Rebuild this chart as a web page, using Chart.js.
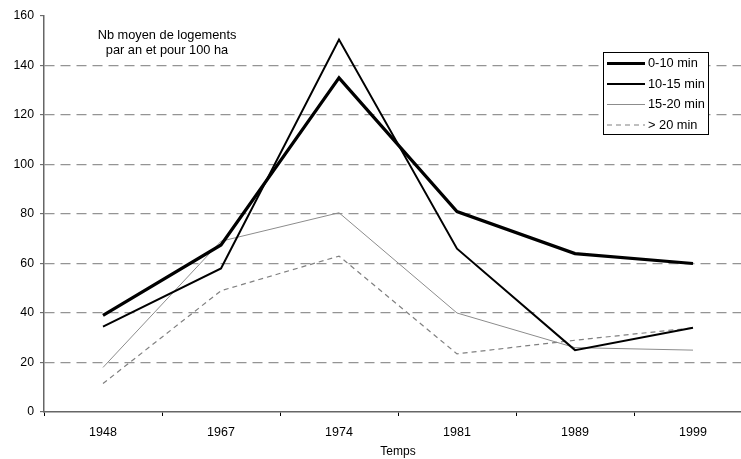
<!DOCTYPE html>
<html>
<head>
<meta charset="utf-8">
<script src="https://cdn.jsdelivr.net/npm/chart.js@4/dist/chart.umd.min.js"></script>
<style>
html,body{margin:0;padding:0;background:#fff;overflow:hidden;width:741px;height:459px;}
#wrap{position:absolute;left:0;top:0;width:760px;height:459px;}
</style>
</head>
<body>
<div id="wrap"><canvas id="c" width="760" height="459"></canvas></div>
<script>
const categories = ['1948', '1967', '1974', '1981', '1989', '1999'];
const seriesNames = ['0-10 min', '10-15 min', '15-20 min', '> 20 min'];
const s0_10 = [39, 67.5, 135, 81, 64, 60];
const s10_15 = [34.5, 58, 150.5, 66, 25, 34];
const s15_20 = [18, 69, 80.5, 40, 26, 25];
const s20plus = [11.5, 49, 63, 23.5, 29, 34];
const yTicks = [0, 20, 40, 60, 80, 100, 120, 140, 160];
const noteLines = ['Nb moyen de logements', 'par an et pour 100 ha'];
const xTitle = 'Temps';

const FONT = 'Liberation Sans, Arial, sans-serif';

const notePlugin = {
  id: 'note',
  afterDraw(chart) {
    const ctx = chart.ctx;
    ctx.save();
    ctx.font = '12.8px ' + FONT;
    ctx.fillStyle = '#000';
    ctx.textAlign = 'center';
    ctx.textBaseline = 'middle';
    noteLines.forEach((t, i) => ctx.fillText(t, 167, 35 + i * 15.5));
    ctx.restore();
  }
};

const legendPlugin = {
  id: 'boxLegend',
  afterDraw(chart) {
    const ctx = chart.ctx;
    const x0 = 603, y0 = 52, w = 105, h = 82;
    ctx.save();
    ctx.fillStyle = '#fff';
    ctx.fillRect(x0, y0, w, h);
    ctx.strokeStyle = '#000';
    ctx.lineWidth = 1;
    ctx.strokeRect(x0 + 0.5, y0 + 0.5, w, h);
    ctx.font = '12.8px ' + FONT;
    ctx.textBaseline = 'middle';
    ctx.textAlign = 'left';
    chart.data.datasets.forEach((ds, i) => {
      const y = y0 + 11.5 + i * 20.5;
      ctx.beginPath();
      ctx.strokeStyle = ds.borderColor;
      ctx.lineWidth = ds.borderWidth;
      ctx.setLineDash(ds.borderDash || []);
      ctx.moveTo(x0 + 4, y);
      ctx.lineTo(x0 + 42, y);
      ctx.stroke();
      ctx.setLineDash([]);
      ctx.fillStyle = '#000';
      ctx.fillText(ds.label, x0 + 45, y);
    });
    ctx.restore();
  }
};

new Chart(document.getElementById('c'), {
  type: 'line',
  data: {
    labels: categories,
    datasets: [
      { label: seriesNames[0], data: s0_10, borderColor: '#000', borderWidth: 3.2 },
      { label: seriesNames[1], data: s10_15, borderColor: '#000', borderWidth: 2 },
      { label: seriesNames[2], data: s15_20, borderColor: '#8c8c8c', borderWidth: 1 },
      { label: seriesNames[3], data: s20plus, borderColor: '#808080', borderWidth: 1.2, borderDash: [5, 4] }
    ]
  },
  options: {
    responsive: false,
    animation: false,
    devicePixelRatio: 1,
    layout: { padding: { left: 0, right: 8, top: 16, bottom: 0 } },
    elements: { point: { radius: 0 }, line: { tension: 0, fill: false } },
    plugins: { legend: { display: false }, tooltip: { enabled: false } },
    scales: {
      x: {
        offset: true,
        grid: { offset: true, drawOnChartArea: false, drawTicks: true, tickLength: 4, tickColor: '#000', tickWidth: 1 },
        border: { color: '#666', width: 1.5 },
        ticks: { color: '#000', font: { family: FONT, size: 12.5 }, padding: 9, maxRotation: 0 },
        title: { display: true, text: xTitle, color: '#000', font: { family: FONT, size: 12 }, padding: { top: 0, bottom: 0 } },
        afterFit(scale) { scale.height = 47; }
      },
      y: {
        min: 0, max: 160,
        afterBuildTicks(scale) { scale.ticks = yTicks.map(v => ({ value: v })); },
        grid: {
          color: ctx => (ctx.tick && (ctx.tick.value === 0 || ctx.tick.value === 160)) ? 'rgba(0,0,0,0)' : '#949494',
          lineWidth: 1.3,
          drawTicks: true, tickLength: 4, tickColor: '#555', tickWidth: 1
        },
        border: { color: '#666', width: 1.5, dash: [10, 6] },
        ticks: { color: '#000', font: { family: FONT, size: 12.3 }, padding: 6 },
        afterFit(scale) { scale.width = 44; }
      }
    }
  },
  plugins: [notePlugin, legendPlugin]
});
</script>
</body>
</html>
